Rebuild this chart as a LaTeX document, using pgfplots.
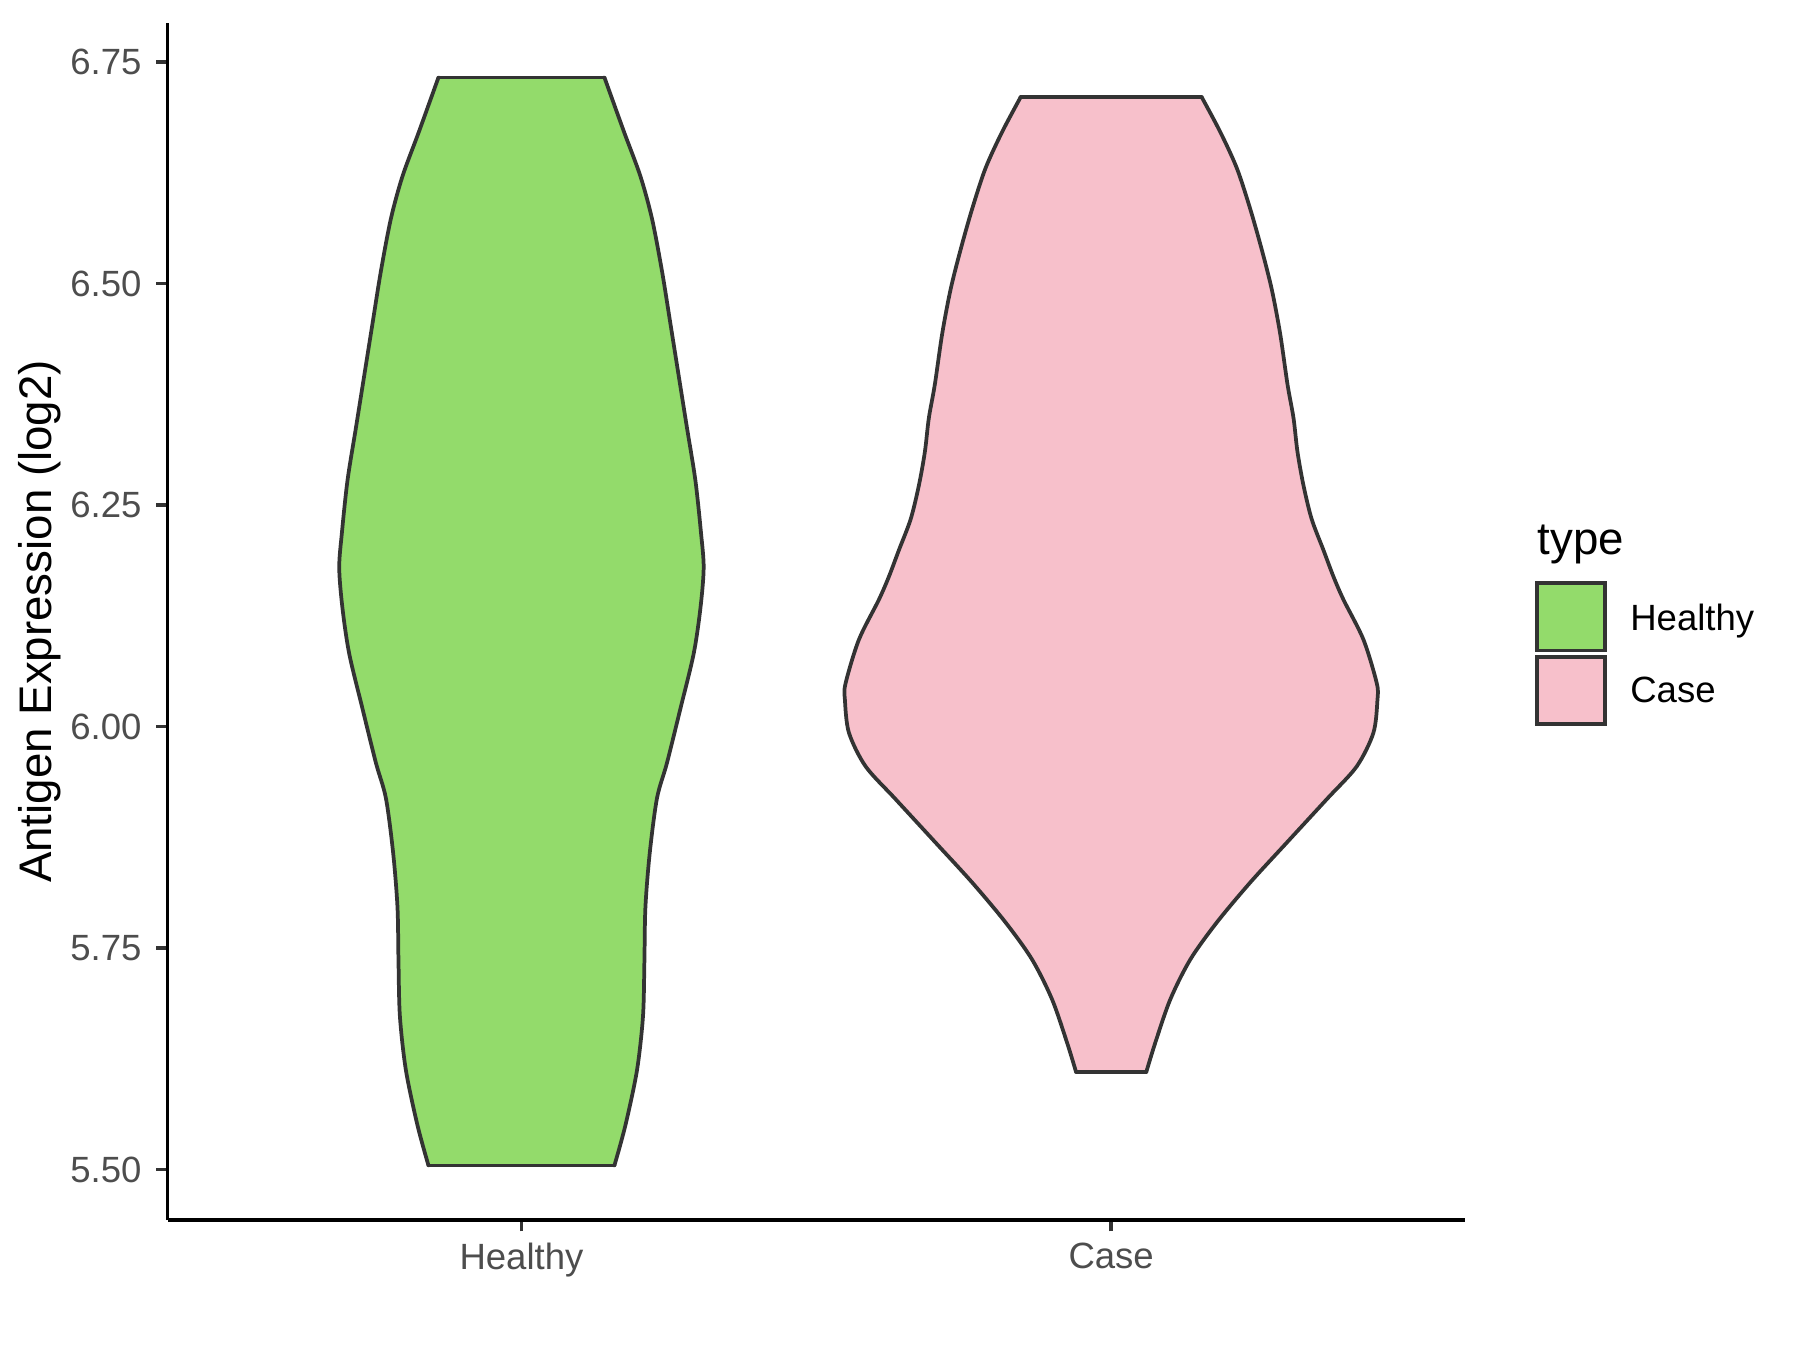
\documentclass[border=0pt]{standalone}
\usepackage{pgfplots}
\pgfplotsset{compat=1.18}
\usepackage{fontspec}
\setmainfont{Liberation Sans}
\definecolor{vgreen}{HTML}{93DB6B}
\definecolor{vpink}{HTML}{F7C0CB}
\definecolor{grey20}{HTML}{333333}
\definecolor{grey30}{HTML}{4D4D4D}
\begin{document}
\begin{tikzpicture}
\useasboundingbox (-0.5587in,-0.4333in) rectangle (5.4413in,4.0667in);
\begin{axis}[
  scale only axis,
  width=4.3247in, height=3.99in,
  at={(0,0)}, anchor=south west,
  xmin=0.4, xmax=2.6,
  ymin=5.4431, ymax=6.7939,
  axis x line=bottom, axis y line=left,
  axis line style={-, line width=0.9pt, black},
  xtick={1,2}, xticklabels={Healthy,Case},
  ytick={5.5,5.75,6,6.25,6.5,6.75},
  tick align=outside,
  major tick length=2.75pt,
  tick style={line width=0.9pt, grey20},
  yticklabel style={/pgf/number format/fixed, /pgf/number format/fixed zerofill, /pgf/number format/precision=2, /pgf/number format/assume math mode=true, font=\fontsize{8.8}{10}\selectfont, text=grey30},
  xticklabel style={font=\fontsize{8.8}{10}\selectfont, text=grey30, yshift=0.8pt},
  ylabel={Antigen Expression (log2)},
  every axis y label/.style={at={(axis description cs:-0.0983,0.5)}, rotate=90, anchor=center, font=\fontsize{11}{13}\selectfont},
  clip=false,
  outline/.style={draw=grey20, line width=0.9pt, line cap=round, line join=round},
  side/.style={outline, smooth, tension=0.5},
]
% ---- Healthy ----
\addplot[fill=vgreen, draw=none] coordinates {
(0.8593,6.7325) (0.8266,6.672) (0.7983,6.621) (0.7786,6.573) (0.7617,6.514) (0.7475,6.455) (0.7334,6.396) (0.7193,6.337) (0.7051,6.278) (0.6956,6.219) (0.6910,6.179) (0.6966,6.133) (0.7080,6.082) (0.7305,6.020) (0.7532,5.959) (0.7702,5.919) (0.7825,5.857) (0.7898,5.796) (0.7915,5.735) (0.7939,5.673) (0.8041,5.612) (0.8237,5.550) (0.8424,5.5045)
(1.1576,5.5045) (1.1763,5.550) (1.1959,5.612) (1.2061,5.673) (1.2085,5.735) (1.2102,5.796) (1.2175,5.857) (1.2298,5.919) (1.2468,5.959) (1.2695,6.020) (1.2920,6.082) (1.3034,6.133) (1.3090,6.179) (1.3044,6.219) (1.2949,6.278) (1.2807,6.337) (1.2666,6.396) (1.2525,6.455) (1.2383,6.514) (1.2214,6.573) (1.2017,6.621) (1.1734,6.672) (1.1407,6.7325)
} -- cycle;
\addplot[side] coordinates {
(0.8593,6.7325) (0.8266,6.672) (0.7983,6.621) (0.7786,6.573) (0.7617,6.514) (0.7475,6.455) (0.7334,6.396) (0.7193,6.337) (0.7051,6.278) (0.6956,6.219) (0.6910,6.179) (0.6966,6.133) (0.7080,6.082) (0.7305,6.020) (0.7532,5.959) (0.7702,5.919) (0.7825,5.857) (0.7898,5.796) (0.7915,5.735) (0.7939,5.673) (0.8041,5.612) (0.8237,5.550) (0.8424,5.5045)};
\addplot[side] coordinates {
(1.1576,5.5045) (1.1763,5.550) (1.1959,5.612) (1.2061,5.673) (1.2085,5.735) (1.2102,5.796) (1.2175,5.857) (1.2298,5.919) (1.2468,5.959) (1.2695,6.020) (1.2920,6.082) (1.3034,6.133) (1.3090,6.179) (1.3044,6.219) (1.2949,6.278) (1.2807,6.337) (1.2666,6.396) (1.2525,6.455) (1.2383,6.514) (1.2214,6.573) (1.2017,6.621) (1.1734,6.672) (1.1407,6.7325)};
\addplot[outline] coordinates {(0.8593,6.7325) (1.1407,6.7325)};
\addplot[outline] coordinates {(0.8424,5.5045) (1.1576,5.5045)};
% ---- Case ----
\addplot[fill=vpink, draw=none] coordinates {
(1.8463,6.710) (1.8151,6.671) (1.7869,6.630) (1.7642,6.584) (1.7446,6.538) (1.7276,6.493) (1.7134,6.443) (1.7010,6.386) (1.6908,6.348) (1.6841,6.310) (1.6739,6.272) (1.6600,6.234) (1.6400,6.199) (1.6230,6.169) (1.6060,6.143) (1.5722,6.098) (1.5497,6.049) (1.5485,6.030) (1.5553,5.993) (1.5836,5.955) (1.6344,5.918) (1.7022,5.869) (1.7642,5.824) (1.8208,5.779) (1.8659,5.737) (1.8998,5.692) (1.9253,5.643) (1.9405,5.610)
(2.0595,5.610) (2.0747,5.643) (2.1002,5.692) (2.1341,5.737) (2.1792,5.779) (2.2358,5.824) (2.2978,5.869) (2.3656,5.918) (2.4164,5.955) (2.4447,5.993) (2.4515,6.030) (2.4503,6.049) (2.4278,6.098) (2.3940,6.143) (2.3770,6.169) (2.3600,6.199) (2.3400,6.234) (2.3261,6.272) (2.3159,6.310) (2.3092,6.348) (2.2990,6.386) (2.2866,6.443) (2.2724,6.493) (2.2554,6.538) (2.2358,6.584) (2.2131,6.630) (2.1849,6.671) (2.1537,6.710)
} -- cycle;
\addplot[side] coordinates {
(1.8463,6.710) (1.8151,6.671) (1.7869,6.630) (1.7642,6.584) (1.7446,6.538) (1.7276,6.493) (1.7134,6.443) (1.7010,6.386) (1.6908,6.348) (1.6841,6.310) (1.6739,6.272) (1.6600,6.234) (1.6400,6.199) (1.6230,6.169) (1.6060,6.143) (1.5722,6.098) (1.5497,6.049) (1.5485,6.030) (1.5553,5.993) (1.5836,5.955) (1.6344,5.918) (1.7022,5.869) (1.7642,5.824) (1.8208,5.779) (1.8659,5.737) (1.8998,5.692) (1.9253,5.643) (1.9405,5.610)};
\addplot[side] coordinates {
(2.0595,5.610) (2.0747,5.643) (2.1002,5.692) (2.1341,5.737) (2.1792,5.779) (2.2358,5.824) (2.2978,5.869) (2.3656,5.918) (2.4164,5.955) (2.4447,5.993) (2.4515,6.030) (2.4503,6.049) (2.4278,6.098) (2.3940,6.143) (2.3770,6.169) (2.3600,6.199) (2.3400,6.234) (2.3261,6.272) (2.3159,6.310) (2.3092,6.348) (2.2990,6.386) (2.2866,6.443) (2.2724,6.493) (2.2554,6.538) (2.2358,6.584) (2.2131,6.630) (2.1849,6.671) (2.1537,6.710)};
\addplot[outline] coordinates {(1.8463,6.710) (2.1537,6.710)};
\addplot[outline] coordinates {(1.9405,5.610) (2.0595,5.610)};
\end{axis}
% legend
\node[anchor=base west, inner sep=0pt, font=\fontsize{11}{13}\selectfont] at (4.5637in,2.2167in) {type};
\draw[fill=vgreen, draw=grey20, line width=0.9pt] (4.5637in,1.8983in) rectangle (4.7907in,2.1223in);
\draw[fill=vpink, draw=grey20, line width=0.9pt] (4.5637in,1.6533in) rectangle (4.7907in,1.8773in);
\node[anchor=base west, inner sep=0pt, font=\fontsize{8.8}{10}\selectfont] at (4.873in,1.964in) {Healthy};
\node[anchor=base west, inner sep=0pt, font=\fontsize{8.8}{10}\selectfont] at (4.873in,1.724in) {Case};
\end{tikzpicture}
\end{document}
